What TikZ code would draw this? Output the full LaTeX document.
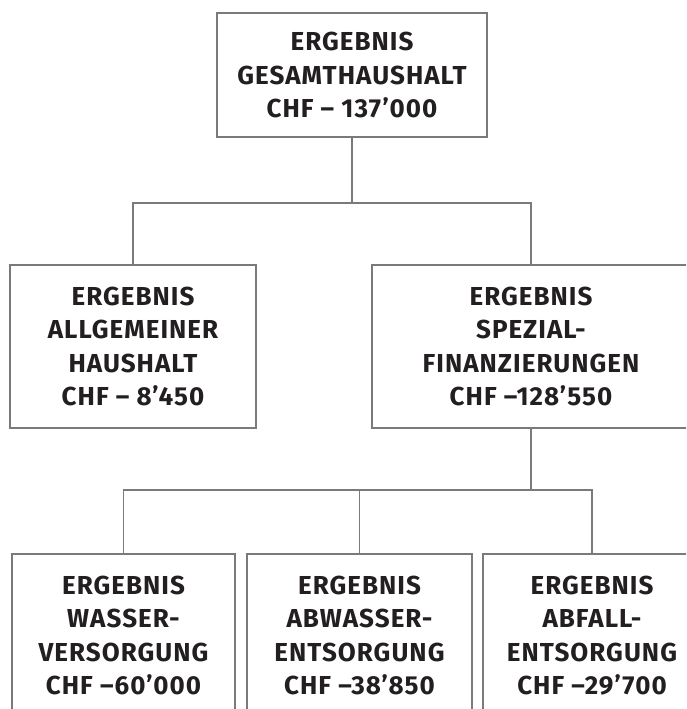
\documentclass[tikz,border=0pt]{standalone}
\usepackage{fontspec}
\setmainfont{Fira Sans}[LetterSpace=4]
\usepackage{tikz}
\usetikzlibrary{positioning}
\definecolor{linegray}{HTML}{7A7A7A}
\definecolor{inkdark}{HTML}{231F20}

\begin{document}
\begin{tikzpicture}[x=1pt, y=-1pt,
    result/.style={draw=linegray, line width=1.3pt, rectangle, align=center,
      text=inkdark, inner ysep=0pt,
      font=\fontsize{26}{33.5}\selectfont\bfseries},
    link/.style={draw=linegray, line width=1.3pt}]
  \clip (0, 0) rectangle (686, 709);
  \fill[white] (0, 0) rectangle (686, 709);

  % top level
  \node[result, minimum width=270, minimum height=124] (gesamt) at (352, 75)
    {ERGEBNIS\\GESAMTHAUSHALT\\CHF – 137’000};

  % second level
  \node[result, minimum width=246, minimum height=163] (allg) at (133, 346.5)
    {ERGEBNIS\\ALLGEMEINER\\HAUSHALT\\CHF – 8’450};
  \node[result, minimum width=318, minimum height=163] (spez) at (531, 346.5)
    {ERGEBNIS\\SPEZIAL-\\FINANZIERUNGEN\\CHF –128’550};

  % third level
  \node[result, minimum width=223, minimum height=163] (wasser) at (123.5, 635.5)
    {ERGEBNIS\\WASSER-\\VERSORGUNG\\CHF –60’000};
  \node[result, minimum width=225, minimum height=163] (abwasser) at (359.5, 635.5)
    {ERGEBNIS\\ABWASSER-\\ENTSORGUNG\\CHF –38’850};
  \node[result, minimum width=218, minimum height=163] (abfall) at (592, 635.5)
    {ERGEBNIS\\ABFALL-\\ENTSORGUNG\\CHF –29’700};

  \coordinate (hubtop) at (352, 203);
  \coordinate (hubbot) at (531, 490);

  \draw[link] (gesamt.south) -- (hubtop);
  \draw[link] (hubtop) -| (allg.north);
  \draw[link] (hubtop) -| (spez.north);

  \draw[link] (spez.south) -- (hubbot);
  \foreach \n in {wasser, abwasser, abfall} {
    \draw[link] (hubbot) -| (\n.north);
  }
\end{tikzpicture}
\end{document}
